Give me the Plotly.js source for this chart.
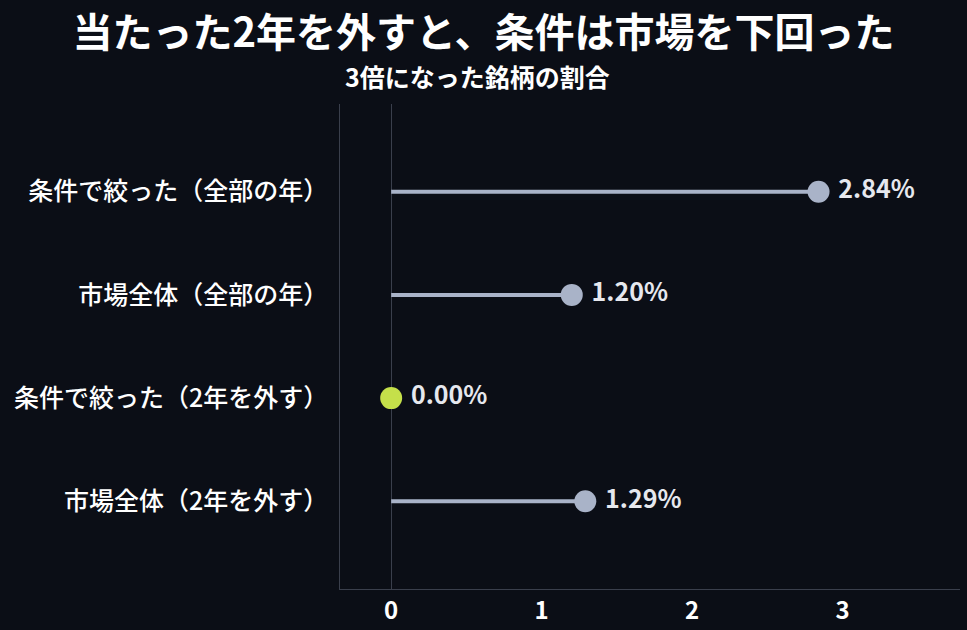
<!DOCTYPE html>
<html>
<head>
<meta charset="utf-8">
<script src="https://cdn.plot.ly/plotly-3.0.1.min.js"></script>
<style>
html,body{margin:0;padding:0;background:#0b0e16;}
#chart{width:967px;height:630px;}
</style>
</head>
<body>
<div id="chart"></div>
<script>
const categories = ["条件で絞った（全部の年）", "市場全体（全部の年）", "条件で絞った（2年を外す）", "市場全体（2年を外す）"];
const values = [2.84, 1.20, 0.00, 1.29];
const valueLabels = ["2.84%", "1.20%", "0.00%", "1.29%"];
const markerColors = ["#a9b3c8", "#a9b3c8", "#c5e04a", "#a9b3c8"];
const xTickValues = [0, 1, 2, 3];
const xTickLabels = ["0", "1", "2", "3"];
const titleText = "当たった2年を外すと、条件は市場を下回った";
const subtitleText = "3倍になった銘柄の割合";

const font = '"Noto Sans CJK JP", "Noto Sans", sans-serif';

const lineX = [], lineY = [];
categories.forEach((c, i) => {
  if (values[i] > 0) {
    lineX.push(0, values[i], null);
    lineY.push(c, c, null);
  }
});

const traces = [
  {
    type: 'scatter', mode: 'lines', x: lineX, y: lineY,
    line: {color: '#a9b3c8', width: 4}, hoverinfo: 'skip', showlegend: false
  },
  {
    type: 'scatter', mode: 'markers+text', x: values, y: categories,
    marker: {size: 22, color: markerColors},
    text: valueLabels.map(t => '\u2009' + t), textposition: 'middle right',
    textfont: {family: font, size: 25, color: '#e6e8ee', weight: 'bold'},
    showlegend: false, cliponaxis: false
  }
];

const layout = {
  width: 967, height: 630,
  paper_bgcolor: '#0b0e16', plot_bgcolor: '#0b0e16',
  margin: {l: 340, r: 7, t: 104, b: 41},
  font: {family: font, color: '#ffffff'},
  title: {
    text: '<b>' + titleText + '</b>',
    font: {family: font, size: 40, color: '#ffffff'},
    x: 0.5, xref: 'container', xanchor: 'center',
    y: 1 - 33/630, yref: 'container', yanchor: 'middle'
  },
  annotations: [{
    text: '<b>' + subtitleText + '</b>', xref: 'paper', yref: 'paper',
    x: (477-340)/620, y: 1 + (104-76)/485, xanchor: 'center', yanchor: 'middle',
    showarrow: false, font: {family: font, size: 25, color: '#ffffff'}
  }],
  xaxis: {
    range: [-0.34, 3.78], tickvals: xTickValues, ticktext: xTickLabels,
    showgrid: false, zeroline: true, zerolinecolor: '#3a3f4c', zerolinewidth: 1,
    showline: true, linecolor: '#3a3f4c', linewidth: 1, ticks: '',
    tickfont: {family: font, size: 24, color: '#ffffff', weight: 'bold'}
  },
  yaxis: {
    type: 'category', categoryorder: 'array', categoryarray: categories,
    range: [3.85, -0.85], showgrid: false, zeroline: false,
    showline: true, linecolor: '#3a3f4c', linewidth: 1, ticks: '',
    ticksuffix: ' ',
    tickfont: {family: font, size: 25, color: '#ffffff', weight: 500}
  }
};

Plotly.newPlot('chart', traces, layout, {displayModeBar: false, staticPlot: true});
</script>
</body>
</html>
